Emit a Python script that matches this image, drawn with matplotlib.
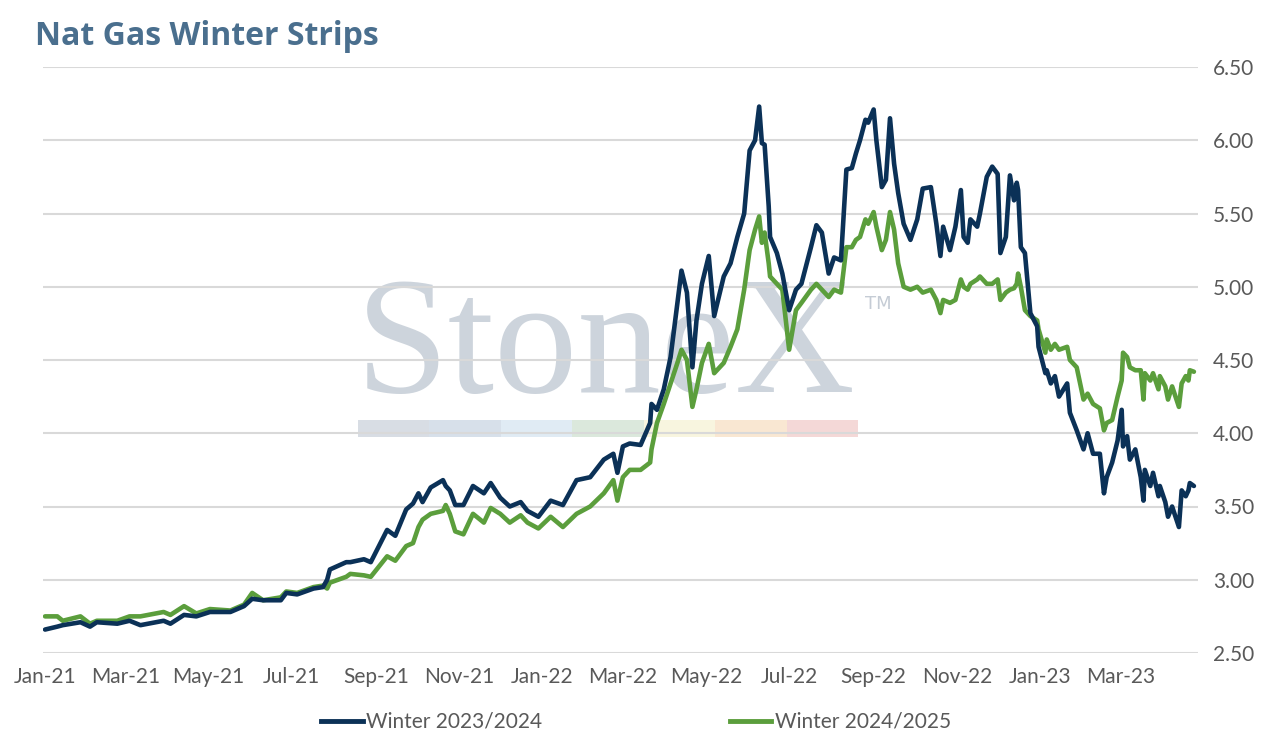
import matplotlib
matplotlib.use("Agg")
import numpy as np
import pandas as pd
import matplotlib.pyplot as plt
import matplotlib.dates as mdates
from matplotlib.ticker import FormatStrFormatter
from matplotlib.patches import Rectangle
from matplotlib.lines import Line2D

title = "Nat Gas Winter Strips"
series_names = ["Winter 2023/2024", "Winter 2024/2025"]

dates = [
    "2021-01-01", "2021-01-10", "2021-01-14", "2021-01-27", "2021-02-03", "2021-02-08",
    "2021-02-23", "2021-03-04", "2021-03-12", "2021-03-29", "2021-04-03", "2021-04-13",
    "2021-04-22", "2021-05-02", "2021-05-17", "2021-05-27", "2021-06-02", "2021-06-10",
    "2021-06-23", "2021-06-27", "2021-07-05", "2021-07-17", "2021-07-24", "2021-07-27",
    "2021-07-29", "2021-08-10", "2021-08-13", "2021-08-23", "2021-08-28", "2021-09-09",
    "2021-09-15", "2021-09-23", "2021-09-28", "2021-10-02", "2021-10-05", "2021-10-11",
    "2021-10-20", "2021-10-22", "2021-10-25", "2021-10-29", "2021-11-04", "2021-11-11",
    "2021-11-19", "2021-11-24", "2021-12-01", "2021-12-08", "2021-12-16", "2021-12-21",
    "2021-12-29", "2022-01-07", "2022-01-16", "2022-01-26", "2022-02-05", "2022-02-15",
    "2022-02-22", "2022-02-25", "2022-03-01", "2022-03-06", "2022-03-14", "2022-03-21",
    "2022-03-22", "2022-03-26", "2022-03-31", "2022-04-05", "2022-04-10", "2022-04-13",
    "2022-04-17", "2022-04-21", "2022-04-24", "2022-04-28", "2022-05-03", "2022-05-07",
    "2022-05-14", "2022-05-19", "2022-05-24", "2022-05-29", "2022-06-02", "2022-06-06",
    "2022-06-09", "2022-06-11", "2022-06-13", "2022-06-16", "2022-06-17", "2022-06-22",
    "2022-06-26", "2022-07-01", "2022-07-06", "2022-07-10", "2022-07-17", "2022-07-21",
    "2022-07-25", "2022-07-30", "2022-08-03", "2022-08-08", "2022-08-12", "2022-08-16",
    "2022-08-19", "2022-08-22", "2022-08-26", "2022-08-28", "2022-09-01", "2022-09-03",
    "2022-09-07", "2022-09-10", "2022-09-13", "2022-09-16", "2022-09-19", "2022-09-23",
    "2022-09-28", "2022-10-03", "2022-10-07", "2022-10-13", "2022-10-17", "2022-10-20",
    "2022-10-22", "2022-10-27", "2022-10-31", "2022-11-04", "2022-11-06", "2022-11-09",
    "2022-11-11", "2022-11-16", "2022-11-18", "2022-11-23", "2022-11-27", "2022-12-01",
    "2022-12-03", "2022-12-07", "2022-12-10", "2022-12-13", "2022-12-15", "2022-12-16",
    "2022-12-18", "2022-12-21", "2022-12-25", "2022-12-30", "2022-12-31", "2023-01-05",
    "2023-01-06", "2023-01-09", "2023-01-12", "2023-01-15", "2023-01-21", "2023-01-23",
    "2023-01-28", "2023-02-02", "2023-02-05", "2023-02-09", "2023-02-14", "2023-02-17",
    "2023-02-19", "2023-02-23", "2023-02-27", "2023-03-02", "2023-03-03", "2023-03-06",
    "2023-03-08", "2023-03-12", "2023-03-16", "2023-03-18", "2023-03-19", "2023-03-23",
    "2023-03-25", "2023-03-29", "2023-03-30", "2023-04-03", "2023-04-05", "2023-04-08",
    "2023-04-13", "2023-04-15", "2023-04-18", "2023-04-20", "2023-04-21", "2023-04-24",
]

winter_2324 = [
    2.66, 2.68, 2.69, 2.71, 2.68, 2.71,
    2.70, 2.72, 2.69, 2.72, 2.70, 2.76,
    2.75, 2.78, 2.78, 2.82, 2.87, 2.86,
    2.86, 2.91, 2.90, 2.94, 2.95, 3.00,
    3.07, 3.12, 3.12, 3.14, 3.12, 3.34,
    3.30, 3.48, 3.52, 3.59, 3.53, 3.63,
    3.68, 3.64, 3.61, 3.51, 3.51, 3.64,
    3.59, 3.66, 3.56, 3.50, 3.53, 3.47,
    3.43, 3.54, 3.51, 3.68, 3.70, 3.82,
    3.86, 3.73, 3.91, 3.93, 3.92, 4.07,
    4.20, 4.16, 4.30, 4.52, 4.89, 5.11,
    4.96, 4.45, 4.77, 5.02, 5.21, 4.80,
    5.07, 5.16, 5.34, 5.50, 5.93, 6.00,
    6.23, 5.98, 5.97, 5.55, 5.34, 5.23,
    5.09, 4.84, 4.98, 5.02, 5.27, 5.42,
    5.37, 5.09, 5.20, 5.18, 5.80, 5.81,
    5.91, 6.00, 6.14, 6.12, 6.21, 6.00,
    5.68, 5.73, 6.15, 5.84, 5.64, 5.43,
    5.32, 5.46, 5.67, 5.68, 5.43, 5.21,
    5.41, 5.25, 5.41, 5.66, 5.34, 5.30,
    5.46, 5.41, 5.50, 5.75, 5.82, 5.77,
    5.23, 5.34, 5.76, 5.59, 5.71, 5.66,
    5.27, 5.23, 4.82, 4.73, 4.59, 4.41,
    4.43, 4.34, 4.39, 4.25, 4.34, 4.14,
    4.02, 3.89, 4.00, 3.86, 3.86, 3.59,
    3.70, 3.80, 3.95, 4.16, 3.91, 3.98,
    3.82, 3.89, 3.70, 3.54, 3.75, 3.64,
    3.73, 3.57, 3.64, 3.53, 3.43, 3.50,
    3.36, 3.61, 3.57, 3.61, 3.66, 3.64,
]

winter_2425 = [
    2.75, 2.75, 2.72, 2.75, 2.70, 2.72,
    2.72, 2.75, 2.75, 2.78, 2.76, 2.82,
    2.77, 2.80, 2.79, 2.83, 2.91, 2.86,
    2.88, 2.92, 2.91, 2.95, 2.96, 2.94,
    2.98, 3.02, 3.04, 3.03, 3.02, 3.16,
    3.13, 3.23, 3.25, 3.36, 3.41, 3.45,
    3.47, 3.51, 3.45, 3.33, 3.31, 3.45,
    3.39, 3.49, 3.45, 3.39, 3.44, 3.39,
    3.35, 3.43, 3.36, 3.45, 3.50, 3.59,
    3.68, 3.54, 3.70, 3.75, 3.75, 3.80,
    3.89, 4.07, 4.20, 4.34, 4.48, 4.57,
    4.50, 4.18, 4.30, 4.48, 4.61, 4.41,
    4.48, 4.59, 4.71, 4.98, 5.25, 5.39,
    5.48, 5.30, 5.37, 5.16, 5.07, 5.02,
    4.98, 4.57, 4.84, 4.89, 4.98, 5.02,
    4.98, 4.93, 4.98, 4.96, 5.27, 5.27,
    5.32, 5.34, 5.46, 5.43, 5.51, 5.41,
    5.25, 5.32, 5.51, 5.39, 5.16, 5.00,
    4.98, 5.00, 4.96, 4.98, 4.91, 4.82,
    4.91, 4.89, 4.91, 5.05, 5.00, 4.98,
    5.02, 5.05, 5.07, 5.02, 5.02, 5.05,
    4.91, 4.96, 4.98, 4.99, 5.02, 5.09,
    5.00, 4.84, 4.80, 4.77, 4.71, 4.55,
    4.64, 4.57, 4.61, 4.57, 4.59, 4.50,
    4.45, 4.23, 4.27, 4.20, 4.17, 4.02,
    4.07, 4.09, 4.25, 4.36, 4.55, 4.52,
    4.45, 4.43, 4.43, 4.23, 4.41, 4.36,
    4.41, 4.30, 4.39, 4.32, 4.23, 4.32,
    4.18, 4.34, 4.39, 4.36, 4.43, 4.42,
]

y_ticks = [2.50, 3.00, 3.50, 4.00, 4.50, 5.00, 5.50, 6.00, 6.50]

navy = "#0b3157"
green = "#5b9e3c"
text_gray = "#595959"

W, H = 1272, 744
fig = plt.figure(figsize=(W / 100, H / 100), dpi=100)
fig.patch.set_facecolor("white")

left, right, top, bottom = 43, 1198, 67, 653
ax = fig.add_axes([left / W, 1 - bottom / H, (right - left) / W, (bottom - top) / H])
ax.set_facecolor("none")

x = pd.to_datetime(dates)
ax.plot(x, winter_2324, color=navy, lw=3.3, zorder=4, solid_joinstyle="round",
        solid_capstyle="round", label=series_names[0])
ax.plot(x, winter_2425, color=green, lw=3.3, zorder=3, solid_joinstyle="round",
        solid_capstyle="round", label=series_names[1])

x0 = mdates.date2num(pd.Timestamp("2021-01-01"))
ax.set_xlim(x0 - 1.5, x0 + 846)
ax.set_ylim(2.5, 6.5)
ax.set_yticks(y_ticks)
ax.yaxis.tick_right()
ax.yaxis.set_major_formatter(FormatStrFormatter("%.2f"))
ax.xaxis.set_major_locator(mdates.MonthLocator(bymonth=[1, 3, 5, 7, 9, 11]))
ax.xaxis.set_major_formatter(mdates.DateFormatter("%b-%y"))
ax.grid(axis="y", color="#d9d9d9", lw=1.5, zorder=1.5)
ax.grid(axis="x", visible=False)
ax.tick_params(axis="both", length=0, labelsize=15, labelcolor=text_gray)
ax.tick_params(axis="y", pad=11)
ax.tick_params(axis="x", pad=10)
for lab in ax.get_xticklabels() + ax.get_yticklabels():
    lab.set_family("Lato")
for s in ax.spines.values():
    s.set_visible(False)

# watermark
ax.text(356 / W, 1 - 392 / H, "StoneX", transform=fig.transFigure, family="Liberation Serif",
        fontsize=120, color="#cdd4dc", ha="left", va="baseline", zorder=1)
ax.text(865 / W, 1 - 309 / H, "TM", transform=fig.transFigure, family="DejaVu Sans",
        fontsize=13, color="#c5ccd5", ha="left", va="baseline", zorder=1)
band_colors = ["#d4dae1", "#d3dde8", "#dde9f3", "#d7e6d9", "#f8f4dc", "#f9e5cd", "#f3d4d3"]
bw = (858 - 358) / len(band_colors)
for i, c in enumerate(band_colors):
    ax.add_patch(Rectangle(((358 + i * bw) / W, 1 - 437 / H), bw / W, 17 / H,
                           transform=fig.transFigure, facecolor=c, edgecolor="none",
                           alpha=0.9, zorder=1))

fig.text(35 / W, 1 - 45 / H, title, fontsize=23, fontweight="bold", color="#4a6f8e",
         family="Open Sans", va="baseline", ha="left")

handles = [Line2D([], [], color=navy, lw=3.5), Line2D([], [], color=green, lw=3.5)]
leg = fig.legend(handles, series_names, loc="center", bbox_to_anchor=(0.5, 1 - 722 / H),
                 ncol=2, frameon=False, handlelength=2.0, handletextpad=0.15,
                 columnspacing=9.0, prop={"family": "Lato", "size": 15})
for t in leg.get_texts():
    t.set_color(text_gray)

fig.savefig("out.png", dpi=100, facecolor="white")
